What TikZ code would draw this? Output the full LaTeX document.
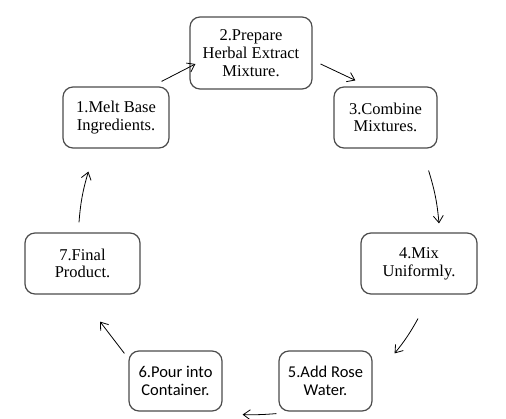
\documentclass[tikz,border=0pt]{standalone}
\usepackage{fontspec}
\setmainfont{Liberation Serif}
\newfontfamily\stepsans{Carlito}
\usetikzlibrary{arrows.meta}

\begin{document}
\begin{tikzpicture}[x=1pt, y=-1pt]
  \tikzset{
    stepbox/.style={
      draw=black!70,
      line width=1.2pt,
      rounded corners=10pt,
      align=center,
      inner sep=0pt,
      font=\fontsize{16.5}{17.7}\selectfont,
    },
    flow/.style={
      -{Straight Barb[length=7pt, width=10pt]},
      line width=0.8pt,
    },
  }
  \useasboundingbox (0,0) rectangle (506,419);

  % the seven steps
  \node[stepbox, minimum width=122pt, minimum height=72pt] (melt2) at (251,53)
    {2.Prepare\\Herbal Extract\\Mixture.};
  \node[stepbox, minimum width=106pt, minimum height=61pt] (melt1) at (116,117.5)
    {1.Melt Base\\Ingredients.};
  \node[stepbox, minimum width=103pt, minimum height=61pt] (comb3) at (385.5,117.5)
    {3.Combine\\Mixtures.};
  \node[stepbox, minimum width=116pt, minimum height=61pt] (mix4) at (419,263.5)
    {4.Mix\\Uniformly.};
  \node[stepbox, minimum width=115pt, minimum height=61pt] (final7) at (82.5,263.5)
    {7.Final\\Product.};
  \node[stepbox, minimum width=93pt, minimum height=60pt,
    font=\stepsans\fontsize{16.5}{18}\selectfont] (rose5) at (325.5,381)
    {5.Add Rose\\Water.};
  \node[stepbox, minimum width=93pt, minimum height=60pt,
    font=\stepsans\fontsize{16.5}{18}\selectfont] (pour6) at (175.5,381)
    {6.Pour into\\Container.};

  % arrows round the cycle
  \draw[flow] ([shift={(-8,-5)}]melt1.north east) -- ([shift={(6,11)}]melt2.west);
  \draw[flow] ([shift={(8,11)}]melt2.east) -- ([shift={(22,-6)}]comb3.north west);
  \draw[flow] ([shift={(-9,22)}]comb3.south east) to[bend left=6] ([shift={(20,-9)}]mix4.north);
  \draw[flow] ([shift={(-1,24)}]mix4.south) to[bend left=5] ([shift={(22,3)}]rose5.north east);
  \draw[flow] ([shift={(-2,2)}]rose5.south west) to[bend left=3] ([shift={(20,3)}]pour6.south east);
  \draw[flow] ([shift={(-4,3)}]pour6.north west) -- ([shift={(17.5,27)}]final7.south);
  \draw[flow] ([shift={(-3.5,-10)}]final7.north) to[bend left=6] ([shift={(26,23)}]melt1.south west);
\end{tikzpicture}
\end{document}
